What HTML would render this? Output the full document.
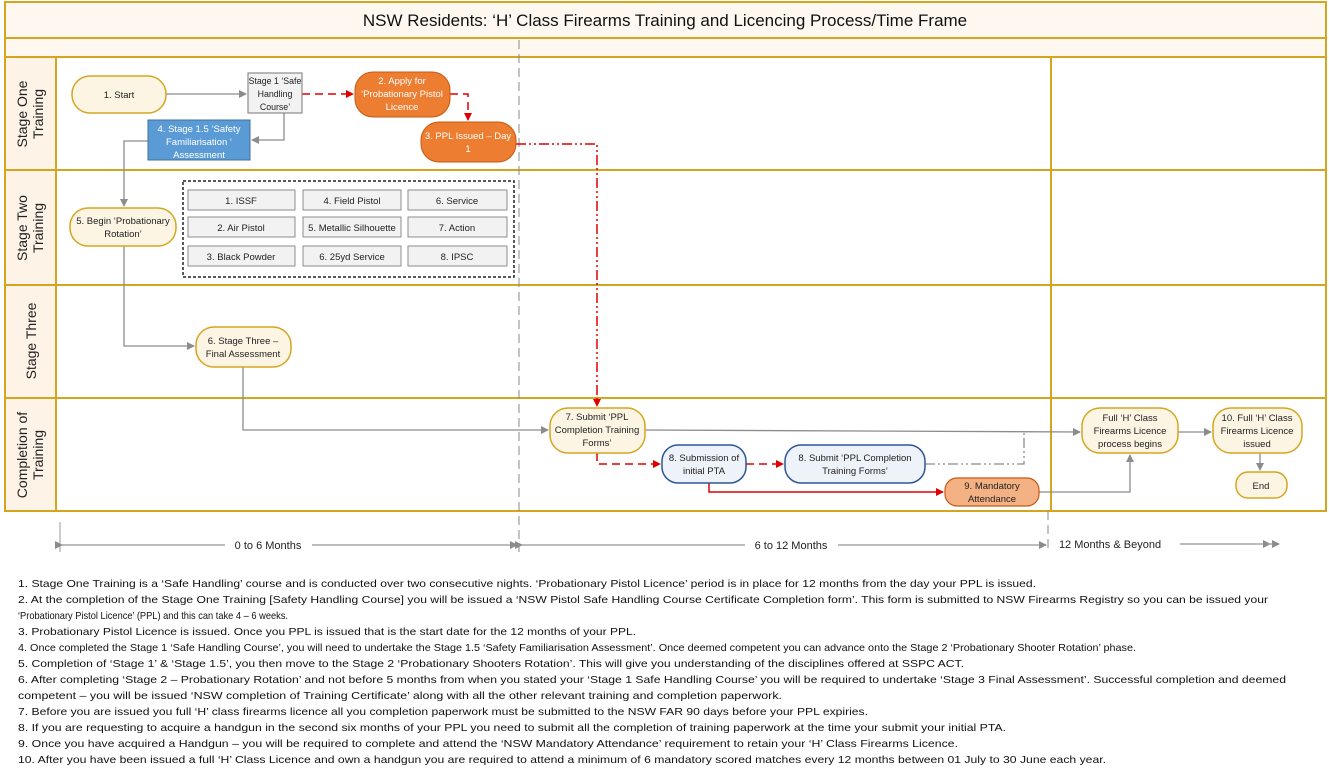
<!DOCTYPE html>
<html><head><meta charset="utf-8"><style>
html,body{margin:0;padding:0;background:#fff}
svg{display:block;font-family:"Liberation Sans",sans-serif}
</style></head><body>
<svg width="1329" height="775" viewBox="0 0 1329 775" xmlns="http://www.w3.org/2000/svg">
<defs>
<marker id="ag" markerWidth="8" markerHeight="8" refX="7" refY="4" orient="auto" markerUnits="userSpaceOnUse"><path d="M0,0 L8,4 L0,8 z" fill="#8c8c8c"/></marker>
<marker id="ar" markerWidth="8" markerHeight="8" refX="7" refY="4" orient="auto" markerUnits="userSpaceOnUse"><path d="M0,0 L8,4 L0,8 z" fill="#e00000"/></marker>
</defs>
<rect x="5" y="2" width="1321" height="36" fill="#fef8f0" stroke="#d6a520" stroke-width="2"/>
<text x="665" y="26" font-size="17" text-anchor="middle" fill="#111">NSW Residents: ‘H’ Class Firearms Training and Licencing Process/Time Frame</text>
<rect x="5" y="38" width="1321" height="19" fill="#fef8f0" stroke="#d6a520" stroke-width="2"/>
<rect x="5" y="57" width="1321" height="454" fill="#fff" stroke="#d6a520" stroke-width="2"/>
<rect x="5" y="57" width="51" height="454" fill="#fdf3e7" stroke="#d6a520" stroke-width="2"/>
<g stroke="#d6a520" stroke-width="2">
<line x1="5" y1="170" x2="1326" y2="170"/>
<line x1="5" y1="285" x2="1326" y2="285"/>
<line x1="5" y1="398" x2="1326" y2="398"/>
<line x1="1051" y1="57" x2="1051" y2="511"/>
</g>
<g font-size="14" fill="#222" text-anchor="middle">
<text transform="translate(30,114) rotate(-90)"><tspan x="0" y="-3">Stage One</tspan><tspan x="0" y="13">Training</tspan></text>
<text transform="translate(30,228) rotate(-90)"><tspan x="0" y="-3">Stage Two</tspan><tspan x="0" y="13">Training</tspan></text>
<text transform="translate(36,341) rotate(-90)"><tspan x="0" y="0">Stage Three</tspan></text>
<text transform="translate(30,455) rotate(-90)"><tspan x="0" y="-3">Completion of</tspan><tspan x="0" y="13">Training</tspan></text>
</g>
<line x1="519" y1="40" x2="519" y2="552" stroke="#888" stroke-dasharray="9,5" stroke-width="1"/>
<line x1="1048" y1="511" x2="1048" y2="552" stroke="#888" stroke-dasharray="9,5" stroke-width="1"/>
<line x1="60" y1="522" x2="60" y2="552" stroke="#999"/>
<g stroke="#8c8c8c" stroke-width="1.3" fill="none">
<line x1="166" y1="94" x2="246" y2="94" marker-end="url(#ag)"/>
<path d="M284,113 V140 H252" marker-end="url(#ag)"/>
<path d="M148,141 H124 V206" marker-end="url(#ag)"/>
<path d="M124,246 V346 H194" marker-end="url(#ag)"/>
<path d="M243,367 V430 H548" marker-end="url(#ag)"/>
<path d="M645,430 L1080,432" marker-end="url(#ag)"/>
<path d="M1178,432 H1211" marker-end="url(#ag)"/>
<path d="M1260,453 V470" marker-end="url(#ag)"/>
<path d="M1039,492 H1130 V455" marker-end="url(#ag)"/>
<path d="M925,464 H1024 V432" stroke-dasharray="10,3,2,3,2,3"/>
</g>
<g stroke="#e00000" stroke-width="1.5" fill="none">
<path d="M302,94 H353" stroke-dasharray="8,5" marker-end="url(#ar)"/>
<path d="M450,94 H468 V120" stroke-dasharray="8,5" marker-end="url(#ar)"/>
<path d="M516,144 H597 V406" stroke-dasharray="10,3,2,3,2,3" marker-end="url(#ar)"/>
<path d="M597,453 V464 H660" stroke-dasharray="8,5" marker-end="url(#ar)"/>
<path d="M746,464 H783" stroke-dasharray="8,5" marker-end="url(#ar)"/>
<path d="M709,483 V492 H943" marker-end="url(#ar)"/>
</g>
<g font-size="9.5" text-anchor="middle">
<rect x="72" y="76" width="94" height="37" rx="18" fill="#fdf5e4" stroke="#d6a520" stroke-width="1.5"/>
<text x="119" y="98" fill="#222">1. Start</text>
<rect x="248" y="73" width="54" height="40" fill="#f2f2f2" stroke="#8c8c8c" stroke-width="1.2"/>
<g font-size="8.8"><text x="275" y="84" fill="#222">Stage 1 ‘Safe</text><text x="275" y="97" fill="#222">Handling</text><text x="275" y="110" fill="#222">Course’</text></g>
<rect x="355" y="72" width="95" height="45" rx="18" fill="#ed7d31" stroke="#c55a11" stroke-width="1"/>
<text x="402" y="84" fill="#fff">2. Apply for</text><text x="402" y="97" fill="#fff">‘Probationary Pistol</text><text x="402" y="110" fill="#fff">Licence</text>
<rect x="421" y="122" width="95" height="40" rx="18" fill="#ed7d31" stroke="#c55a11" stroke-width="1"/>
<text x="468" y="139" fill="#fff">3. PPL Issued – Day</text><text x="468" y="152" fill="#fff">1</text>
<rect x="148" y="120" width="102" height="40" fill="#5b9bd5" stroke="#41719c" stroke-width="1"/>
<text x="199" y="132" fill="#fff">4. Stage 1.5 ‘Safety</text><text x="199" y="145" fill="#fff">Familiarisation ‘</text><text x="199" y="158" fill="#fff">Assessment</text>
<rect x="70" y="208" width="106" height="38" rx="18" fill="#fdf5e4" stroke="#d6a520" stroke-width="1.5"/>
<text x="123" y="224" fill="#222">5. Begin ‘Probationary</text><text x="123" y="237" fill="#222">Rotation’</text>
<rect x="183" y="181" width="331" height="96" fill="none" stroke="#222" stroke-width="1.5" stroke-dasharray="3,2"/>
<g fill="#f2f2f2" stroke="#8c8c8c" stroke-width="1">
<rect x="188" y="190" width="107" height="20"/><rect x="303" y="190" width="98" height="20"/><rect x="408" y="190" width="99" height="20"/>
<rect x="188" y="217" width="107" height="20"/><rect x="303" y="217" width="98" height="20"/><rect x="408" y="217" width="99" height="20"/>
<rect x="188" y="246" width="107" height="20"/><rect x="303" y="246" width="98" height="20"/><rect x="408" y="246" width="99" height="20"/>
</g>
<g fill="#222">
<text x="241" y="204">1. ISSF</text><text x="352" y="204">4. Field Pistol</text><text x="457" y="204">6. Service</text>
<text x="241" y="231">2. Air Pistol</text><text x="352" y="231">5. Metallic Silhouette</text><text x="457" y="231">7. Action</text>
<text x="241" y="260">3. Black Powder</text><text x="352" y="260">6. 25yd Service</text><text x="457" y="260">8. IPSC</text>
</g>
<rect x="196" y="327" width="95" height="40" rx="18" fill="#fdf5e4" stroke="#d6a520" stroke-width="1.5"/>
<text x="243" y="344" fill="#222">6. Stage Three –</text><text x="243" y="357" fill="#222">Final Assessment</text>
<rect x="550" y="408" width="95" height="45" rx="18" fill="#fdf5e4" stroke="#d6a520" stroke-width="1.5"/>
<text x="597" y="420" fill="#222">7. Submit ‘PPL</text><text x="597" y="433" fill="#222">Completion Training</text><text x="597" y="446" fill="#222">Forms’</text>
<rect x="662" y="445" width="84" height="38" rx="16" fill="#eef2f9" stroke="#2f5597" stroke-width="1.5"/>
<text x="704" y="461" fill="#222">8. Submission of</text><text x="704" y="474" fill="#222">initial PTA</text>
<rect x="785" y="445" width="140" height="38" rx="16" fill="#eef2f9" stroke="#2f5597" stroke-width="1.5"/>
<text x="855" y="461" fill="#222">8. Submit ‘PPL Completion</text><text x="855" y="474" fill="#222">Training Forms’</text>
<rect x="945" y="478" width="94" height="28" rx="12" fill="#f4b183" stroke="#c55a11" stroke-width="1.2"/>
<text x="992" y="489" fill="#222">9. Mandatory</text><text x="992" y="502" fill="#222">Attendance</text>
<rect x="1082" y="408" width="96" height="45" rx="18" fill="#fdf5e4" stroke="#d6a520" stroke-width="1.5"/>
<text x="1130" y="421" fill="#222">Full ‘H’ Class</text><text x="1130" y="434" fill="#222">Firearms Licence</text><text x="1130" y="447" fill="#222">process begins</text>
<rect x="1213" y="408" width="89" height="45" rx="18" fill="#fdf5e4" stroke="#d6a520" stroke-width="1.5"/>
<text x="1257" y="421" fill="#222">10. Full ‘H’ Class</text><text x="1257" y="434" fill="#222">Firearms Licence</text><text x="1257" y="447" fill="#222">issued</text>
<rect x="1236" y="472" width="51" height="26" rx="12" fill="#fdf5e4" stroke="#d6a520" stroke-width="1.5"/>
<text x="1261" y="489" fill="#222">End</text>
</g>
<g stroke="#a6a6a6" stroke-width="1.5" fill="none">
<line x1="62" y1="545" x2="225" y2="545" marker-start="url(#ag)"/>
<line x1="312" y1="545" x2="517" y2="545" marker-end="url(#ag)"/>
<line x1="522" y1="545" x2="745" y2="545" marker-start="url(#ag)"/>
<line x1="838" y1="545" x2="1046" y2="545" marker-end="url(#ag)"/>
<line x1="1180" y1="544" x2="1270" y2="544" marker-end="url(#ag)"/>
<line x1="1268" y1="544" x2="1279" y2="544" marker-end="url(#ag)"/>
</g>
<g font-size="11" fill="#222" text-anchor="middle">
<text x="268" y="549">0 to 6 Months</text>
<text x="791" y="549">6 to 12 Months</text>
<text x="1110" y="548">12 Months &amp; Beyond</text>
</g>
<g font-size="10.3" fill="#111">
<text x="18" y="587" textLength="1018" lengthAdjust="spacingAndGlyphs">1. Stage One Training is a ‘Safe Handling’ course and is conducted over two consecutive nights. ‘Probationary Pistol Licence’ period is in place for 12 months from the day your PPL is issued.</text>
<text x="18" y="603" textLength="1250" lengthAdjust="spacingAndGlyphs">2. At the completion of the Stage One Training [Safety Handling Course] you will be issued a ‘NSW Pistol Safe Handling Course Certificate Completion form’. This form is submitted to NSW Firearms Registry so you can be issued your</text>
<text x="18" y="619" textLength="270" lengthAdjust="spacingAndGlyphs">‘Probationary Pistol Licence’ (PPL) and this can take 4 – 6 weeks.</text>
<text x="18" y="635" textLength="618" lengthAdjust="spacingAndGlyphs">3. Probationary Pistol Licence is issued. Once you PPL is issued that is the start date for the 12 months of your PPL.</text>
<text x="18" y="651" textLength="1118" lengthAdjust="spacingAndGlyphs">4. Once completed the Stage 1 ‘Safe Handling Course’, you will need to undertake the Stage 1.5 ‘Safety Familiarisation Assessment’. Once deemed competent you can advance onto the Stage 2 ‘Probationary Shooter Rotation’ phase.</text>
<text x="18" y="667" textLength="946" lengthAdjust="spacingAndGlyphs">5. Completion of ‘Stage 1’ &amp; ‘Stage 1.5’, you then move to the Stage 2 ‘Probationary Shooters Rotation’. This will give you understanding of the disciplines offered at SSPC ACT.</text>
<text x="18" y="683" textLength="1268" lengthAdjust="spacingAndGlyphs">6. After completing ‘Stage 2 – Probationary Rotation’ and not before 5 months from when you stated your ‘Stage 1 Safe Handling Course’ you will be required to undertake ‘Stage 3 Final Assessment’. Successful completion and deemed</text>
<text x="18" y="699" textLength="764" lengthAdjust="spacingAndGlyphs">competent – you will be issued ‘NSW completion of Training Certificate’ along with all the other relevant training and completion paperwork.</text>
<text x="18" y="715" textLength="850" lengthAdjust="spacingAndGlyphs">7. Before you are issued you full ‘H’ class firearms licence all you completion paperwork must be submitted to the NSW FAR 90 days before your PPL expiries.</text>
<text x="18" y="731" textLength="988" lengthAdjust="spacingAndGlyphs">8. If you are requesting to acquire a handgun in the second six months of your PPL you need to submit all the completion of training paperwork at the time your submit your initial PTA.</text>
<text x="18" y="747" textLength="940" lengthAdjust="spacingAndGlyphs">9. Once you have acquired a Handgun – you will be required to complete and attend the ‘NSW Mandatory Attendance’ requirement  to retain your ‘H’ Class Firearms Licence.</text>
<text x="18" y="763" textLength="1088" lengthAdjust="spacingAndGlyphs">10. After you have been issued a full ‘H’ Class Licence and own a handgun you are required to attend a minimum of 6 mandatory scored matches every 12 months between 01 July to 30 June each year.</text>
</g>
</svg>
</body></html>
